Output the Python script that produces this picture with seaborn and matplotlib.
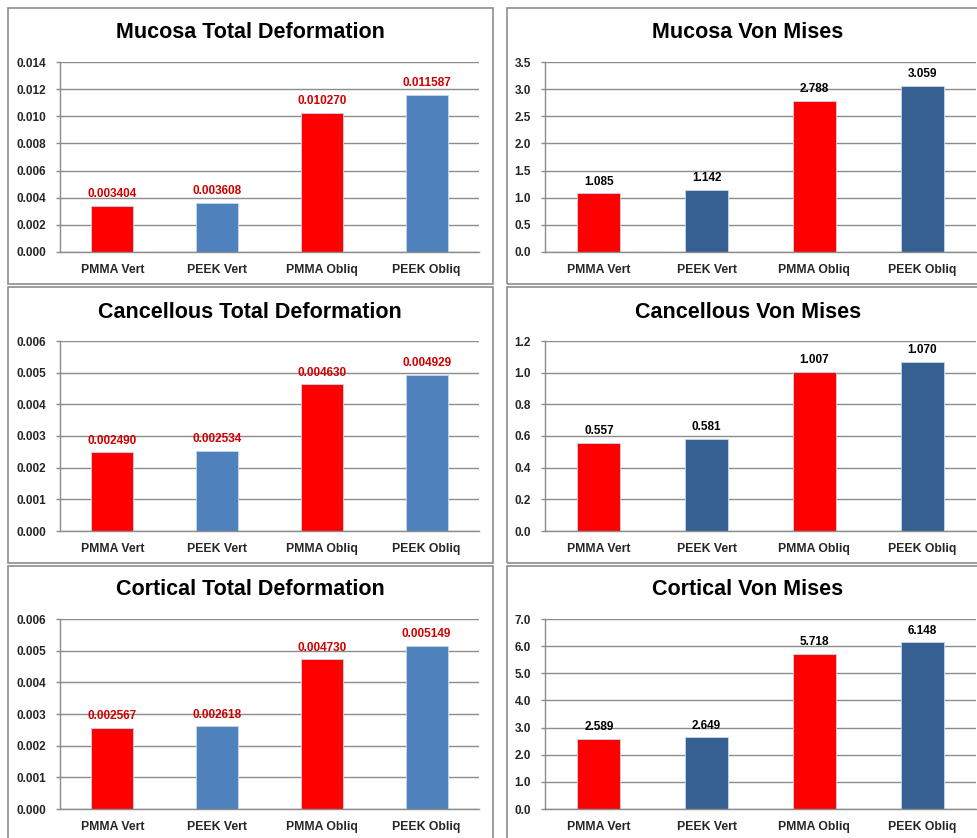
import matplotlib
matplotlib.use("Agg")
import matplotlib.pyplot as plt
import seaborn as sns
import pandas as pd
import numpy as np
from matplotlib.patches import Rectangle

categories = ["PMMA Vert", "PEEK Vert", "PMMA Obliq", "PEEK Obliq"]

mucosa_def = [0.003404, 0.003608, 0.010270, 0.011587]
mucosa_vm = [1.085, 1.142, 2.788, 3.059]
canc_def = [0.002490, 0.002534, 0.004630, 0.004929]
canc_vm = [0.557, 0.581, 1.007, 1.070]
cort_def = [0.002567, 0.002618, 0.004730, 0.005149]
cort_vm = [2.589, 2.649, 5.718, 6.148]

titles = [
    "Mucosa Total Deformation", "Mucosa Von Mises",
    "Cancellous Total Deformation", "Cancellous Von Mises",
    "Cortical Total Deformation", "Cortical Von Mises",
]

RED = "#FF0000"
LIGHT_BLUE = "#4F81BD"
DARK_BLUE = "#376092"

sns.set_style("white")
plt.rcParams["font.family"] = ["Liberation Sans", "DejaVu Sans"]

W, H = 977, 838
fig = plt.figure(figsize=(W / 100, H / 100), dpi=100)

panels = [
    (mucosa_def, 0.014, 0.002, "{:.3f}", "{:.6f}", LIGHT_BLUE, "#D00000",
     (8, 493, 8, 284), (60, 479, 62, 252), 33, 250),
    (mucosa_vm, 3.5, 0.5, "{:.1f}", "{:.3f}", DARK_BLUE, "#000000",
     (507, 985, 8, 284), (545, 976, 62, 252), 33, 748),
    (canc_def, 0.006, 0.001, "{:.3f}", "{:.6f}", LIGHT_BLUE, "#D00000",
     (8, 493, 287, 563), (60, 479, 341, 531), 312, 250),
    (canc_vm, 1.2, 0.2, "{:.1f}", "{:.3f}", DARK_BLUE, "#000000",
     (507, 985, 287, 563), (545, 976, 341, 531), 312, 748),
    (cort_def, 0.006, 0.001, "{:.3f}", "{:.6f}", LIGHT_BLUE, "#D00000",
     (8, 493, 566, 845), (60, 479, 619, 809), 589, 250),
    (cort_vm, 7.0, 1.0, "{:.1f}", "{:.3f}", DARK_BLUE, "#000000",
     (507, 985, 566, 845), (545, 976, 619, 809), 589, 748),
]

for (vals, ymax, ystep, ftick, flab, blue, lcol, box, axr, ty, tx), title in zip(panels, titles):
    bx0, bx1, by0, by1 = box
    fig.patches.append(Rectangle((bx0 / W, 1 - by1 / H), (bx1 - bx0) / W, (by1 - by0) / H,
                                 transform=fig.transFigure, fill=False,
                                 edgecolor="#8C8C8C", linewidth=1.2))
    x0, x1, y0, y1 = axr
    ax = fig.add_axes([x0 / W, 1 - y1 / H, (x1 - x0) / W, (y1 - y0) / H])
    df = pd.DataFrame({"cat": categories, "val": vals})
    sns.barplot(data=df, x="cat", y="val", hue="cat", order=categories,
                hue_order=categories, palette=[RED, blue, RED, blue],
                width=0.4, legend=False, ax=ax, saturation=1,
                edgecolor="#C8D6EA", linewidth=0.6)
    ax.set_xlim(-0.5, 3.5)
    ax.set_ylim(0, ymax)
    ticks = np.round(np.arange(0, ymax + ystep / 2, ystep), 6)
    ax.set_yticks(ticks)
    ax.set_yticklabels([ftick.format(t) for t in ticks], fontsize=8.5, fontweight="bold")
    ax.yaxis.grid(True, color="#8C8C8C", linewidth=1.0)
    ax.set_axisbelow(True)
    ax.set_xticks([0, 1, 2, 3])
    ax.set_xticklabels(categories, fontsize=8.8, fontweight="bold")
    for lab in ax.get_xticklabels():
        lab.set_verticalalignment("baseline")
    ax.set_xticks([-0.5, 0.5, 1.5, 2.5, 3.5], minor=True)
    ax.tick_params(axis="x", which="major", length=0, pad=15)
    ax.tick_params(axis="x", which="minor", length=4, color="#8C8C8C", width=1)
    ax.tick_params(axis="y", length=3, color="#8C8C8C", width=1, pad=7, left=True)
    ax.set_xlabel("")
    ax.set_ylabel("")
    for s in ["top", "right"]:
        ax.spines[s].set_visible(False)
    for s in ["left", "bottom"]:
        ax.spines[s].set_color("#8C8C8C")
        ax.spines[s].set_linewidth(1.0)
    for i, v in enumerate(vals):
        ax.annotate(flab.format(v), (i, v), xytext=(0, 4), textcoords="offset points",
                    ha="center", va="bottom", fontsize=8.5, fontweight="bold", color=lcol)
    fig.text(tx / W, 1 - ty / H, title,
             ha="center", va="center", fontsize=15.5, fontweight="bold", color="black")

fig.savefig("out.png", dpi=100, facecolor="white")
